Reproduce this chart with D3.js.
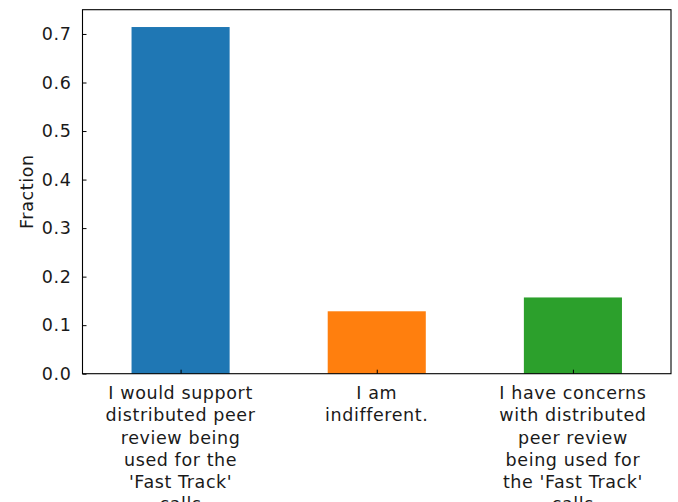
<!DOCTYPE html>
<html><head><meta charset="utf-8">
<script src="https://cdn.jsdelivr.net/npm/d3@7"></script>
<style>body{margin:0;background:#fff}svg{display:block}</style>
</head><body>
<svg id="c" width="678" height="502"></svg>
<script>
const categories = [
  ["I would support", "distributed peer", "review being", "used for the", "'Fast Track'", "calls"],
  ["I am", "indifferent."],
  ["I have concerns", "with distributed", "peer review", "being used for", "the 'Fast Track'", "calls"]
];
const values = [0.7143, 0.1286, 0.1571];
const colors = ["#1f77b4", "#ff7f0e", "#2ca02c"];
const yTicks = [0, 0.1, 0.2, 0.3, 0.4, 0.5, 0.6, 0.7];
const yLabel = "Fraction";

const svg = d3.select("#c");
const m = {l: 82.5, r: 671, t: 9.7, b: 373.7};
const font = "'DejaVu Sans', sans-serif";
const fs = 17.5;
const ls = 0.6;
const tc = "#1a1a1a";

const x = d3.scaleLinear().domain([-0.5, 2.5]).range([m.l, m.r]);
const y = d3.scaleLinear().domain([0, 0.75]).range([m.b, m.t]);
const bw = x(0.5) - x(0);

svg.selectAll("rect.bar").data(values).join("rect")
  .attr("x", (d, i) => x(i) - bw / 2)
  .attr("y", d => y(d))
  .attr("width", bw)
  .attr("height", d => y(0) - y(d))
  .attr("fill", (d, i) => colors[i]);

const yAxis = d3.axisLeft(y).tickValues(yTicks).tickFormat(d3.format(".1f")).tickSizeInner(-4).tickSizeOuter(0).tickPadding(11);
const gy = svg.append("g").attr("transform", `translate(${m.l},0)`).call(yAxis);
gy.select(".domain").remove();
gy.selectAll("line").attr("stroke", "#000").attr("stroke-width", 1);
gy.selectAll("text").attr("font-family", font).attr("font-size", fs).attr("letter-spacing", ls).attr("fill", tc);

const xAxis = d3.axisBottom(x).tickValues([0, 1, 2]).tickSizeInner(-4).tickSizeOuter(0).tickFormat("");
const gx = svg.append("g").attr("transform", `translate(0,${m.b})`).call(xAxis);
gx.select(".domain").remove();
gx.selectAll("line").attr("stroke", "#000");

categories.forEach((lines, i) => {
  const t = svg.append("text").attr("font-family", font).attr("font-size", fs).attr("letter-spacing", ls)
    .attr("fill", tc).attr("text-anchor", "middle");
  lines.forEach((ln, j) => {
    t.append("tspan").attr("x", x(i)).attr("y", m.b + 25.5 + j * 22.2).text(ln);
  });
});

svg.append("rect").attr("x", m.l).attr("y", m.t).attr("width", m.r - m.l).attr("height", m.b - m.t)
  .attr("fill", "none").attr("stroke", "#000").attr("stroke-width", 1.1);

svg.append("text").attr("transform", `translate(33,${(m.t + m.b) / 2}) rotate(-90)`)
  .attr("text-anchor", "middle").attr("font-family", font).attr("font-size", fs).attr("letter-spacing", ls)
  .attr("fill", tc).text(yLabel);
</script>
</body></html>
